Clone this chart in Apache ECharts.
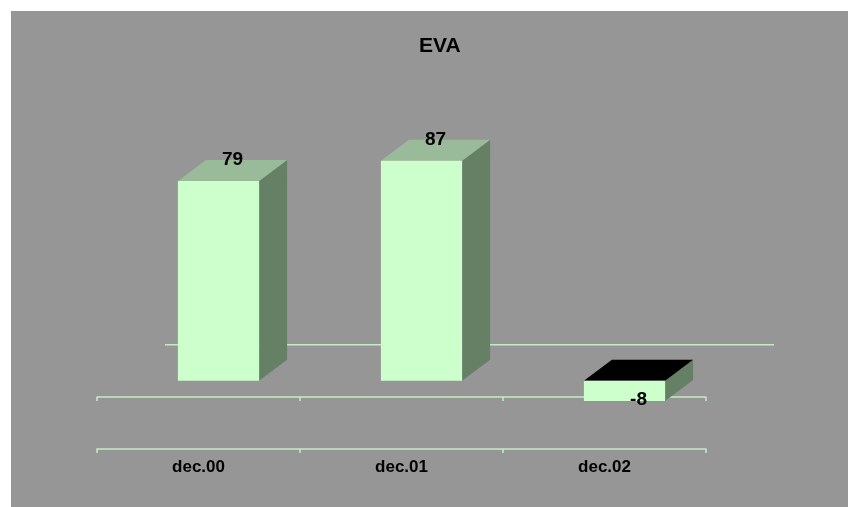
<!DOCTYPE html>
<html>
<head>
<meta charset="utf-8">
<style>
html,body{margin:0;padding:0;background:#ffffff;}
#chart{width:848px;height:507px;}
</style>
<script src="https://cdn.jsdelivr.net/npm/echarts@6/dist/echarts.min.js"></script>
</head>
<body>
<div id="chart"></div>
<script>
var categories = ['dec.00', 'dec.01', 'dec.02'];
var evaValues = [79, 87, -8];
var titleText = 'EVA';

var FONT = '"Liberation Sans", Arial, Helvetica, sans-serif';
var SHIFT_X = 20;       // bar placement inside the 3D floor depth
var DEPTH_X = 28, DEPTH_Y = -21;  // bar depth
var WALL_X = 68, WALL_Y = -36;    // back wall line offset
var LINE_COLOR = '#c4ecc4';

var data = categories.map(function (c, i) { return [i, evaValues[i]]; });

function renderItem(params, api) {
  var idx = api.value(0), v = api.value(1);
  var base = api.coord([idx, 0]);
  var tip = api.coord([idx, v]);
  var band = api.size([1, 0])[0];
  var w = band * 0.4;
  var x0 = base[0] + SHIFT_X - w / 2, x1 = x0 + w;
  var yTop = Math.min(base[1], tip[1]), yBot = Math.max(base[1], tip[1]);
  var children = [];
  if (params.dataIndex === 0) {
    var cs = params.coordSys;
    children.push({
      type: 'line',
      shape: { x1: cs.x + WALL_X, y1: base[1] + WALL_Y, x2: cs.x + cs.width + WALL_X, y2: base[1] + WALL_Y },
      style: { stroke: LINE_COLOR, lineWidth: 1.5 }
    });
  }
  children.push({
    type: 'polygon',
    shape: { points: [[x1, yTop], [x1 + DEPTH_X, yTop + DEPTH_Y], [x1 + DEPTH_X, yBot + DEPTH_Y], [x1, yBot]] },
    style: { fill: '#668066' }
  });
  children.push({
    type: 'polygon',
    shape: { points: [[x0, yTop], [x0 + DEPTH_X, yTop + DEPTH_Y], [x1 + DEPTH_X, yTop + DEPTH_Y], [x1, yTop]] },
    style: { fill: v >= 0 ? '#99bb99' : '#000000' }
  });
  children.push({
    type: 'rect',
    shape: { x: x0, y: yTop, width: w, height: yBot - yTop },
    style: { fill: '#ccffcc' }
  });
  var lx = (x0 + x1) / 2 + DEPTH_X / 2;
  var ly = v >= 0 ? yTop + DEPTH_Y : yBot - 1;
  children.push({
    type: 'text',
    style: {
      text: String(v), x: lx, y: ly, align: 'center', verticalAlign: 'middle',
      font: 'bold 19px ' + FONT, fill: '#000000'
    }
  });
  return { type: 'group', children: children };
}

var chart = echarts.init(document.getElementById('chart'), null, { renderer: 'canvas' });
chart.setOption({
  backgroundColor: '#ffffff',
  animation: false,
  graphic: [{
    type: 'rect', left: 11, top: 11, z: -10,
    shape: { width: 837, height: 496 },
    style: { fill: '#969696' }
  }],
  title: {
    text: titleText, left: 414, top: 31,
    textStyle: { fontFamily: FONT, fontWeight: 'bold', fontSize: 21, color: '#000000' }
  },
  grid: { left: 97, right: 142, top: 128, bottom: 58 },
  xAxis: [{
    type: 'category', data: categories, position: 'bottom',
    axisLine: { onZero: false, lineStyle: { color: LINE_COLOR, width: 1.5 } },
    axisTick: { show: true, length: 4, lineStyle: { color: LINE_COLOR, width: 1.5 } },
    axisLabel: { margin: 10, color: '#000000', fontFamily: FONT, fontWeight: 'bold', fontSize: 17 },
    splitLine: { show: false }
  }, {
    type: 'category', data: categories, position: 'bottom', offset: -52,
    axisLine: { onZero: false, lineStyle: { color: LINE_COLOR, width: 1.5 } },
    axisTick: { show: true, length: 4, lineStyle: { color: LINE_COLOR, width: 1.5 } },
    axisLabel: { show: false },
    splitLine: { show: false }
  }],
  yAxis: { type: 'value', min: -27, max: 100, show: false, splitLine: { show: false } },
  series: [{
    type: 'custom', name: 'EVA', renderItem: renderItem, data: data,
    encode: { x: 0, y: 1 }, clip: false
  }]
});
</script>
</body>
</html>
